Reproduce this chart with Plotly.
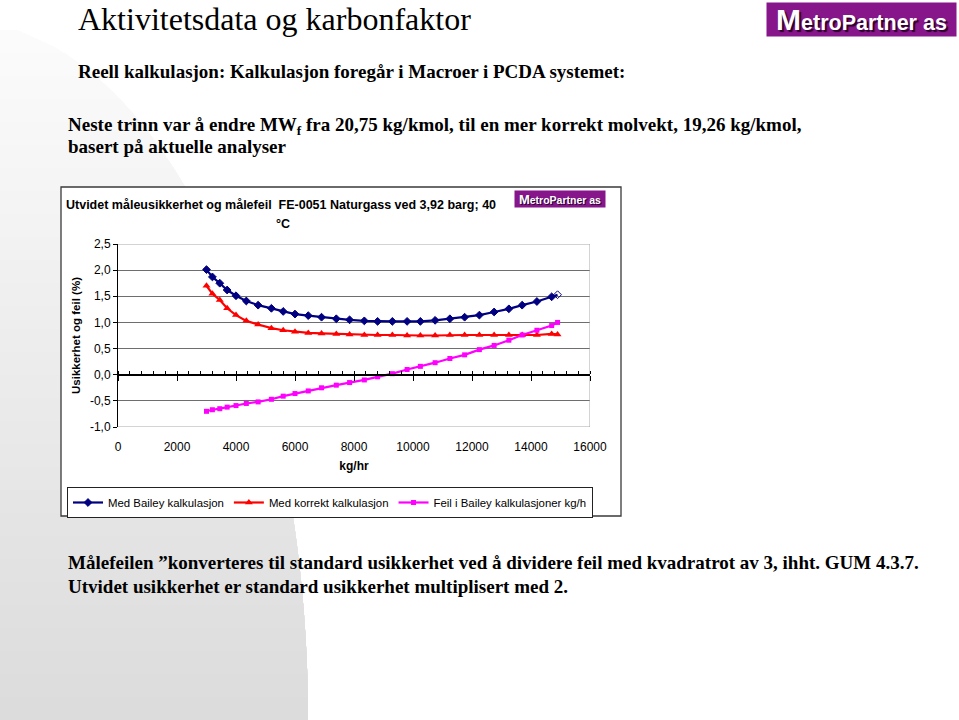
import math
import plotly.graph_objects as go

# ---------------- data ----------------
flow_kg_hr = [3000, 3200, 3450, 3700, 4000, 4350, 4750, 5200, 5600, 6000,
              6450, 6900, 7400, 7850, 8350, 8800, 9300, 9800, 10250, 10750,
              11250, 11750, 12250, 12750, 13250, 13700, 14200, 14700, 14900]
bailey = [2.01, 1.87, 1.75, 1.62, 1.51, 1.41, 1.33, 1.27, 1.21, 1.16,
          1.13, 1.10, 1.07, 1.05, 1.03, 1.02, 1.02, 1.02, 1.02, 1.04,
          1.07, 1.10, 1.14, 1.20, 1.26, 1.33, 1.40, 1.49, 1.53]
korrekt = [1.70, 1.55, 1.43, 1.27, 1.14, 1.03, 0.96, 0.89, 0.85, 0.82,
           0.80, 0.79, 0.78, 0.77, 0.76, 0.76, 0.76, 0.75, 0.75, 0.75,
           0.76, 0.76, 0.76, 0.76, 0.76, 0.76, 0.76, 0.78, 0.77]
feil = [-0.70, -0.67, -0.65, -0.62, -0.59, -0.55, -0.52, -0.47, -0.41, -0.36,
        -0.31, -0.25, -0.20, -0.15, -0.10, -0.04, 0.02, 0.10, 0.16, 0.23,
        0.31, 0.38, 0.48, 0.56, 0.66, 0.76, 0.85, 0.94, 1.00]

series_names = ["Med Bailey kalkulasjon", "Med korrekt kalkulasjon",
                "Feil i Bailey kalkulasjoner kg/h"]
y_tickvals = [-1.0, -0.5, 0.0, 0.5, 1.0, 1.5, 2.0, 2.5]
y_ticktext = ["-1,0", "-0,5", "0,0", "0,5", "1,0", "1,5", "2,0", "2,5"]
x_tickvals = [0, 2000, 4000, 6000, 8000, 10000, 12000, 14000, 16000]
x_ticktext = ["0", "2000", "4000", "6000", "8000", "10000", "12000", "14000", "16000"]

# ---------------- layout helpers ----------------
W, H = 959, 720
def px(x):
    return x / W
def py(y):
    return 1 - y / H

x_dom = [px(118), px(590)]
y_dom = [py(427), py(244)]
y_rng = [-1.0, 2.5]
zero_pos = y_dom[0] + (0 - y_rng[0]) / (y_rng[1] - y_rng[0]) * (y_dom[1] - y_dom[0])

fig = go.Figure()

bailey_symbols = ["diamond"] * (len(flow_kg_hr) - 1) + ["diamond-open"]
fig.add_trace(go.Scatter(
    x=flow_kg_hr, y=bailey, name=series_names[0], mode="lines+markers",
    line=dict(color="#000080", width=2.2),
    marker=dict(symbol=bailey_symbols, size=6, color="#000080",
                line=dict(color="#000080", width=1))))
fig.add_trace(go.Scatter(
    x=flow_kg_hr, y=korrekt, name=series_names[1], mode="lines+markers",
    line=dict(color="#FF0000", width=2.2),
    marker=dict(symbol="triangle-up", size=7, color="#FF0000")))
fig.add_trace(go.Scatter(
    x=flow_kg_hr, y=feil, name=series_names[2], mode="lines+markers",
    line=dict(color="#FF00FF", width=2.2),
    marker=dict(symbol="square", size=5, color="#FF00FF")))

# ---------------- background decoration ----------------
shapes = []
def boundary_x(y):
    d = 720 - y
    v = 1 - (d / 700.0) ** 2
    return -41 + 349 * math.sqrt(max(v, 0))

n_bands = 30
y_start = 30
for i in range(n_bands):
    y0 = y_start + (720 - y_start) * i / n_bands
    t = (i + 0.5) / n_bands
    g = int(round(252 - (252 - 219) * t))
    col = "rgb(%d,%d,%d)" % (g, g, g)
    steps = 40
    path = "M %.5f,%.5f " % (px(0), py(y0))
    for k in range(steps + 1):
        yy = y0 + (720 - y0) * k / steps
        path += "L %.5f,%.5f " % (px(max(boundary_x(yy), 0)), py(yy))
    path += "L %.5f,%.5f Z" % (px(0), py(720))
    shapes.append(dict(type="path", path=path, xref="paper", yref="paper",
                       fillcolor=col, line=dict(width=0), layer="below"))

# chart box
shapes.append(dict(type="rect", xref="paper", yref="paper",
                   x0=px(61), x1=px(621), y0=py(516), y1=py(187),
                   fillcolor="white", line=dict(color="#3a3a3a", width=1.3),
                   layer="below"))
# plot-area border (top, right, bottom)
shapes.append(dict(type="path", xref="x", yref="y",
                   path="M 0,2.5 L 16000,2.5 L 16000,-1 L 0,-1",
                   line=dict(color="#a8a8a8", width=1), layer="between"))

serif = "Liberation Serif, Times New Roman, serif"
sans = "Liberation Sans, Arial, sans-serif"

def note(text, x, y, xanchor="left", size=19, family=serif, **kw):
    d = dict(text=text, x=px(x), y=py(y), xref="paper", yref="paper",
             xanchor=xanchor, yanchor="middle", showarrow=False,
             font=dict(family=family, size=size, color="black"))
    d.update(kw)
    return d

annotations = [
    note("Aktivitetsdata og karbonfaktor", 76, 19, size=32),
    note("<b>Reell kalkulasjon: Kalkulasjon foregår i Macroer i PCDA systemet:</b>", 76, 72),
    note("<b>Neste trinn var å endre MW<sub>f</sub> fra 20,75 kg/kmol, til en mer korrekt molvekt, 19,26 kg/kmol,</b>", 66, 126),
    note("<b>basert på aktuelle analyser</b>", 66, 147),
    note("<b>Målefeilen \u201dkonverteres til standard usikkerhet ved å dividere feil med kvadratrot av 3, ihht. GUM 4.3.7.</b>", 66, 562),
    note("<b>Utvidet usikkerhet er standard usikkerhet multiplisert med 2.</b>", 66, 586),
    # chart title
    note("<b>Utvidet måleusikkerhet og målefeil  FE-0051 Naturgass ved 3,92 barg; 40</b>",
         281, 205, xanchor="center", size=12.5, family=sans),
    note("<b>°C</b>", 283, 224, xanchor="center", size=12.5, family=sans),
    # logos
    dict(text="<b><span style='font-size:30px'>M</span>etroPartner as</b>",
         x=px(861.5), y=py(19.5), xref="paper", yref="paper",
         xanchor="center", yanchor="middle", showarrow=False,
         width=185, height=29, borderpad=2, bgcolor="#86168a",
         font=dict(family=sans, size=21.5, color="white", shadow="2px 2px 1px #2a002a")),
    dict(text="<b><span style='font-size:13px'>M</span>etroPartner as</b>",
         x=px(560), y=py(199), xref="paper", yref="paper",
         xanchor="center", yanchor="middle", showarrow=False,
         width=88, height=14, borderpad=1, bgcolor="#86168a",
         font=dict(family=sans, size=10.5, color="white", shadow="1px 1px 0px #2a002a")),
]

fig.update_layout(
    width=W, height=H, autosize=False,
    margin=dict(l=0, r=0, t=0, b=0),
    paper_bgcolor="white", plot_bgcolor="rgba(0,0,0,0)",
    font=dict(family=sans, size=12, color="black"),
    shapes=shapes, annotations=annotations,
    showlegend=True,
    legend=dict(orientation="h", x=px(67), y=py(487), xanchor="left", yanchor="top",
                bordercolor="#222222", borderwidth=1, bgcolor="white",
                font=dict(family=sans, size=11.4, color="black"),
                itemwidth=30, tracegroupgap=0),
    xaxis=dict(domain=x_dom, range=[0, 16000], anchor="free", position=zero_pos,
               showline=True, linecolor="black", linewidth=1.6,
               ticks="outside", ticklen=5, tickwidth=1, tickcolor="black",
               tickvals=x_tickvals, ticktext=x_ticktext,
               minor=dict(dtick=400, tick0=0, ticks="inside", ticklen=3,
                          tickcolor="black", tickwidth=1, showgrid=False),
               showgrid=False, zeroline=False, ticklabelstandoff=56,
               tickfont=dict(family=sans, size=12, color="black"),
               title=dict(text="<b>kg/hr</b>", standoff=8,
                          font=dict(family=sans, size=12, color="black")),
               automargin=False, fixedrange=True),
    yaxis=dict(domain=y_dom, range=y_rng, anchor="x",
               showline=True, linecolor="black", linewidth=1,
               ticks="outside", ticklen=4, tickcolor="black",
               tickvals=y_tickvals, ticktext=y_ticktext,
               showgrid=True, gridcolor="#6e6e6e", gridwidth=1,
               zeroline=False,
               tickfont=dict(family=sans, size=12, color="black"),
               title=dict(text="<b>Usikkerhet og feil (%)</b>", standoff=6,
                          font=dict(family=sans, size=11.5, color="black")),
               automargin=False, fixedrange=True),
)

fig.write_html("out.html")
